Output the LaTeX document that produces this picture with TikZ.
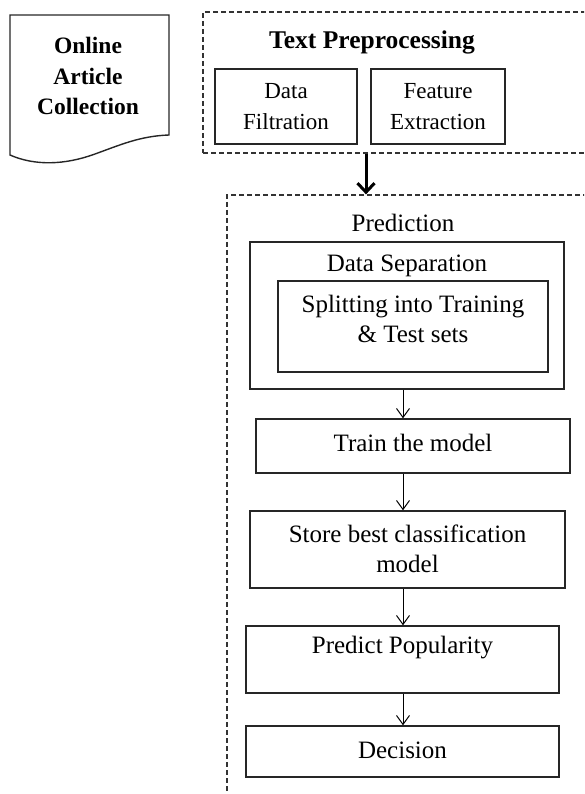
\documentclass[tikz,border=0pt]{standalone}
\usepackage{fontspec}
\setmainfont{Liberation Serif}
\usetikzlibrary{arrows.meta,calc}
\begin{document}
\begin{tikzpicture}[x=1pt,y=1pt,
  box/.style={draw=black!85,line width=1.4pt,rectangle,inner sep=0pt},
  dbox/.style={draw=black!80,line width=1.3pt,dash pattern=on 5pt off 3pt,rectangle,inner sep=0pt},
  lbl/.style={inner sep=0pt,align=center,font=\fontsize{25}{30.5}\selectfont},
  slbl/.style={inner sep=0pt,align=center,font=\fontsize{23}{31}\selectfont},
  arr/.style={line width=1pt,-{Straight Barb[length=9pt,width=13pt]}},
  bigarr/.style={line width=3pt,-{Straight Barb[length=9pt,width=17pt]}}]
\useasboundingbox (0,0) rectangle (584,-794);
\clip (0,0) rectangle (584,-794);
% document shape
\draw[line width=1.4pt,draw=black!85] (10,-155) -- (10,-15) -- (169,-15) -- (169,-135)
  .. controls (140,-136) and (120,-145) .. (95,-154)
  .. controls (65,-165) and (35,-166) .. (10,-155) -- cycle;
\node[slbl,font=\fontsize{23.5}{30.5}\selectfont\bfseries] (online) at (88,-76) {Online\\Article\\Collection};
% text preprocessing
\node[dbox,minimum width=397pt,minimum height=141pt] (tp) at (401.5,-82.5) {};
\node[lbl,font=\fontsize{25.5}{30}\selectfont\bfseries] (tplbl) at (372,-42) {Text Preprocessing};
\node[box,minimum width=142pt,minimum height=75pt] (df) at (286,-106.5) {};
\node[slbl] (dflbl) at (286,-106.5) {Data\\Filtration};
\node[box,minimum width=134pt,minimum height=75pt] (fe) at (438,-106.5) {};
\node[slbl] (felbl) at (438,-106.5) {Feature\\Extraction};
% prediction
\node[dbox,minimum width=373pt,minimum height=615pt] (pd) at (413.5,-502.5) {};
\coordinate (bigx) at (366,0);
\draw[bigarr] (tp.south -| bigx) -- (pd.north -| bigx);
\node[lbl] (predlbl) at (403,-223) {Prediction};
\node[box,minimum width=314pt,minimum height=147pt] (ds) at (407,-315.5) {};
\node[lbl] (dslbl) at (407,-266) {Data Separation};
\node[box,minimum width=270pt,minimum height=91pt] (sp) at (413,-326.5) {};
\node[lbl] (splbl) at (413,-319) {Splitting into Training\\\& Test sets};
\node[box,minimum width=314pt,minimum height=54pt] (train) at (413,-446) {};
\node[lbl] (trainlbl) at (413,-443) {Train the model};
\node[box,minimum width=315pt,minimum height=77pt] (store) at (407.5,-549.5) {};
\node[lbl] (storelbl) at (407.5,-549) {Store best classification\\model};
\node[box,minimum width=313pt,minimum height=67pt] (predict) at (402.5,-659.5) {};
\node[lbl] (predictlbl) at (402.5,-648) {Predict Popularity};
\node[box,minimum width=313pt,minimum height=51pt] (dec) at (402.5,-751.5) {};
\node[lbl] (declbl) at (402.5,-750) {Decision};
\draw[arr] (ds.south -| predlbl) -- (train.north -| predlbl);
\draw[arr] (train.south -| predlbl) -- (store.north -| predlbl);
\draw[arr] (store.south -| predlbl) -- (predict.north -| predlbl);
\draw[arr] (predict.south -| predlbl) -- (dec.north -| predlbl);
\end{tikzpicture}
\end{document}
